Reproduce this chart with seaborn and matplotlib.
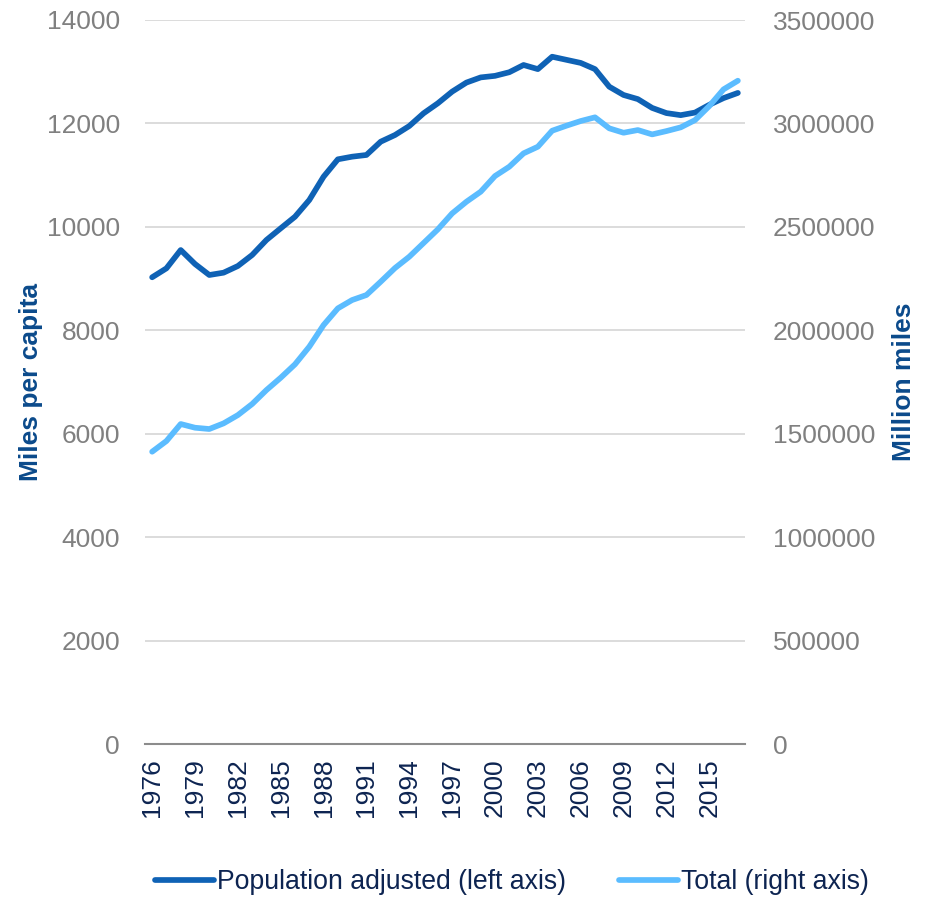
import numpy as np
import pandas as pd
import matplotlib
matplotlib.use("Agg")
import matplotlib.pyplot as plt
import seaborn as sns

years = list(range(1976, 2018))
per_capita = [9025, 9198, 9552, 9282, 9069, 9114, 9243, 9456, 9746, 9972,
              10196, 10519, 10970, 11306, 11357, 11390, 11647, 11776, 11950, 12196,
              12390, 12615, 12790, 12890, 12920, 12990, 13130, 13050, 13290, 13230,
              13170, 13050, 12710, 12550, 12470, 12300, 12200, 12160, 12210, 12360,
              12490, 12590]
total = [1413000, 1464700, 1546900, 1529000, 1522700, 1550000, 1590000, 1643600, 1711000, 1770700,
         1835500, 1920600, 2025400, 2106000, 2146300, 2170500, 2234800, 2301000, 2355600, 2421800,
         2488000, 2565000, 2621500, 2670000, 2745700, 2790700, 2855400, 2887400, 2964800, 2989000,
         3011600, 3029500, 2976300, 2955000, 2968000, 2947000, 2963000, 2981000, 3016000, 3084000,
         3164800, 3206500]
left_ticks = [0, 2000, 4000, 6000, 8000, 10000, 12000, 14000]
right_ticks = [0, 500000, 1000000, 1500000, 2000000, 2500000, 3000000, 3500000]
label_years = list(range(1976, 2016, 3))
series_names = ["Population adjusted (left axis)", "Total (right axis)"]

df = pd.DataFrame({"year": years, "per_capita": per_capita, "total": total})

sns.set_style("white")
plt.rcParams["font.family"] = ["Liberation Sans", "DejaVu Sans"]

DARK = "#0f62b5"
LIGHT = "#5bbcff"
GRAY = "#808080"
NAVY = "#0b4a8b"
TEXT = "#0d2451"
FS = 19

fig = plt.figure(figsize=(9.26, 8.97), dpi=100)
ax = fig.add_axes([145/926, 1-744/897, 600/926, 724/897])
ax2 = ax.twinx()

sns.lineplot(data=df, x="year", y="per_capita", ax=ax, color=DARK, linewidth=4.1,
             label=series_names[0], legend=False, solid_capstyle="round")
sns.lineplot(data=df, x="year", y="total", ax=ax2, color=LIGHT, linewidth=4.1,
             label=series_names[1], legend=False, solid_capstyle="round")

ax.set_xlim(1975.5, 2017.5)
ax.set_ylim(0, 14000)
ax2.set_ylim(0, 3500000)

ax.set_yticks(left_ticks)
ax.set_yticklabels([str(v) for v in left_ticks])
ax2.set_yticks(right_ticks)
ax2.set_yticklabels([str(v) for v in right_ticks])

ax.set_xticks(label_years)
ax.set_xticklabels([str(y) for y in label_years], rotation=90, color=TEXT, fontsize=FS)
ax.set_xticks(np.arange(1975.5, 2018, 3), minor=True)
ax.tick_params(axis="x", which="major", length=0, pad=10)
ax.tick_params(axis="x", which="minor", length=6, width=1.5, color="#8c8c8c")

ax.tick_params(axis="y", length=0, pad=18, labelsize=FS, labelcolor=GRAY)
ax2.tick_params(axis="y", length=0, pad=20, labelsize=FS, labelcolor=GRAY)

for a in (ax, ax2):
    for s in ["top", "right", "left", "bottom"]:
        a.spines[s].set_visible(False)
ax.spines["bottom"].set_visible(True)
ax.spines["bottom"].set_color("#8c8c8c")
ax.spines["bottom"].set_linewidth(1.5)

ax.yaxis.grid(True, color="#d9d9d9", linewidth=1.3)
ax.set_axisbelow(True)
ax2.grid(False)

ax.set_xlabel("")
ax.set_ylabel("Miles per capita", fontsize=FS, fontweight="bold", color=NAVY)
ax2.set_ylabel("Million miles", fontsize=FS, fontweight="bold", color=NAVY)
ax.yaxis.set_label_coords(-102/600, 0.5)
ax2.yaxis.set_label_coords(1 + 147/600, 0.5)

handles = ax.get_lines()[:1] + ax2.get_lines()[:1]
leg = fig.legend(handles, series_names, loc="center", bbox_to_anchor=(0.553, 1-882/897),
                 ncol=2, frameon=False, fontsize=FS + 0.2, handlelength=2.2, handletextpad=0.12,
                 columnspacing=2.0, labelcolor=TEXT)

fig.savefig("out.png", dpi=100)
